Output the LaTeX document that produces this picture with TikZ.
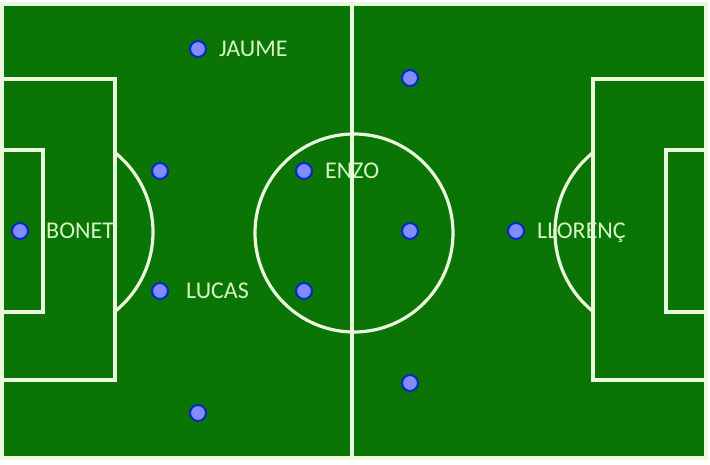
\documentclass[tikz,border=0pt]{standalone}
\usepackage{fontspec}
\setmainfont{Carlito}
\usetikzlibrary{positioning}
\definecolor{pitch}{RGB}{10,116,4}
\definecolor{chalk}{RGB}{234,248,222}
\definecolor{namecol}{RGB}{214,244,196}
\definecolor{shirt}{RGB}{128,140,255}
\definecolor{shirtedge}{RGB}{8,40,190}
\tikzset{
  line/.style={draw=chalk, line width=3.2pt},
  player/.style={circle, draw=shirtedge, fill=shirt, line width=2pt, minimum size=16pt, inner sep=0pt},
  pname/.style={text=namecol, font=\fontsize{24}{24}\selectfont, inner sep=0pt, text height=15pt, text depth=0pt}
}
\begin{document}
\begin{tikzpicture}[x=1pt, y=-1pt]
\useasboundingbox (0,0) rectangle (710,464);
\fill[white] (0,0) rectangle (710,464);
\path[fill=pitch, line] (2,4) rectangle (706,458);
\draw[line] (352,4) -- (352,458);
\draw[line] (354,233) circle (99);
\draw[line] (2,79) -- (115,79) -- (115,380) -- (2,380);
\draw[line] (2,150) -- (43,150) -- (43,312) -- (2,312);
\draw[line] (706,79) -- (593,79) -- (593,380) -- (706,380);
\draw[line] (706,150) -- (666,150) -- (666,312) -- (706,312);
\begin{scope}
\clip (115,0) rectangle (352,464);
\draw[line] (51,232) circle (102);
\end{scope}
\begin{scope}
\clip (352,0) rectangle (593,464);
\draw[line] (657,232) circle (102);
\end{scope}
\node[player] (jaume) at (198,49) {};
\node[player] (p2) at (410,78) {};
\node[player] (p3) at (160,171) {};
\node[player] (enzo) at (304,171) {};
\node[player] (bonet) at (20,231) {};
\node[player] (p6) at (410,231) {};
\node[player] (llorenc) at (516,231) {};
\node[player] (lucas) at (160,291) {};
\node[player] (p9) at (304,291) {};
\node[player] (p10) at (410,383) {};
\node[player] (p11) at (198,413) {};
\node[pname, right=12pt of jaume] (jaumelab) {JAUME};
\node[pname, right=12pt of enzo] (enzolab) {ENZO};
\node[pname, right=17pt of bonet] (bonetlab) {BONET};
\node[pname, right=12pt of llorenc] (llorenclab) {LLORENÇ};
\node[pname, right=17pt of lucas] (lucaslab) {LUCAS};
\end{tikzpicture}
\end{document}
